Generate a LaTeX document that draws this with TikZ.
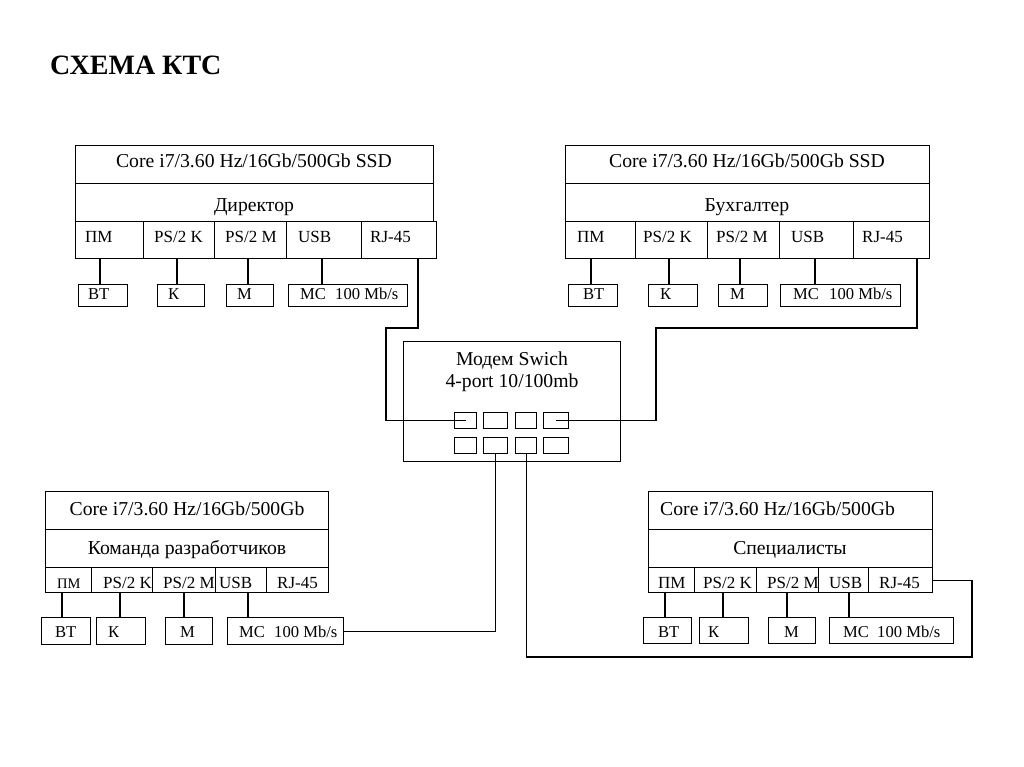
\documentclass[tikz,border=0pt]{standalone}
\usepackage{fontspec}
\setmainfont{Liberation Serif}
\begin{document}
\begin{tikzpicture}[x=1pt,y=-1pt,
  cell/.style={draw, line width=1.1pt, inner sep=0pt, anchor=north west},
  wire/.style={line width=1.1pt},
  big/.style={font=\fontsize{19.7}{22}\selectfont, anchor=base, inner sep=0pt},
  bigl/.style={font=\fontsize{19.7}{22}\selectfont, anchor=base west, inner sep=0pt},
  portl/.style={font=\fontsize{17}{20}\selectfont, anchor=base west, inner sep=0pt},
  ports/.style={font=\fontsize{14.5}{17}\selectfont, anchor=base west, inner sep=0pt},
  perl/.style={font=\fontsize{16.6}{19}\selectfont, anchor=base west, inner sep=0pt}]
\newcounter{lbc}
\newcommand\cellnode[5]{\node[cell, minimum width={#4-#2}, minimum height={#5-#3}] (#1) at (#2,#3) {};}
\newcommand\mylab[4]{\stepcounter{lbc}\node[#1] (lab\arabic{lbc}) at (#2,#3) {#4};}
\newcommand\vlink[3]{\draw[wire] (#1.south -| #3,0) -- (#2.north -| #3,0);}
\fill[white] (0,0) rectangle (1024,767);
\useasboundingbox (0,0) rectangle (1024,767);

% title
\node[font=\bfseries\fontsize{28}{32}\selectfont, anchor=base west, inner sep=0pt] (title) at (50,75) {СХЕМА КТС};

% ---------- top left: Директор ----------
\cellnode{tl-cpu}{75}{145}{433}{183}
\cellnode{tl-name}{75}{183}{433}{221}
\cellnode{tl-pm}{75}{221}{143}{258}
\cellnode{tl-psk}{143}{221}{214}{258}
\cellnode{tl-psm}{214}{221}{286}{258}
\cellnode{tl-usb}{286}{221}{361}{258}
\cellnode{tl-rj}{361}{221}{436}{258}
\cellnode{tl-bt}{78}{284}{127}{306}
\cellnode{tl-k}{157}{284}{204}{306}
\cellnode{tl-m}{226}{284}{273}{306}
\cellnode{tl-mc}{288}{284}{407}{306}
\mylab{big}{254}{168}{Core i7/3.60 Hz/16Gb/500Gb SSD}
\mylab{big}{254}{212}{Директор}
\mylab{portl}{85}{243}{ПМ}
\mylab{portl}{154}{243}{PS/2 K}
\mylab{portl}{225}{243}{PS/2 M}
\mylab{portl}{298}{243}{USB}
\mylab{portl}{370}{243}{RJ-45}
\mylab{perl}{88}{299}{ВТ}
\mylab{perl}{168}{299}{К}
\mylab{perl}{237}{299}{М}
\mylab{perl}{300}{299}{МС}
\mylab{perl}{335}{299}{100 Mb/s}
\vlink{tl-pm}{tl-bt}{100}
\vlink{tl-psk}{tl-k}{177}
\vlink{tl-psm}{tl-m}{248}
\vlink{tl-usb}{tl-mc}{322}

% ---------- top right: Бухгалтер ----------
\cellnode{tr-cpu}{565}{145}{929}{183}
\cellnode{tr-name}{565}{183}{929}{221}
\cellnode{tr-pm}{565}{221}{635}{258}
\cellnode{tr-psk}{635}{221}{707}{258}
\cellnode{tr-psm}{707}{221}{779}{258}
\cellnode{tr-usb}{779}{221}{853}{258}
\cellnode{tr-rj}{853}{221}{929}{258}
\cellnode{tr-bt}{568}{284}{617}{306}
\cellnode{tr-k}{648}{284}{697}{306}
\cellnode{tr-m}{718}{284}{767}{306}
\cellnode{tr-mc}{780}{284}{900}{306}
\mylab{big}{747}{168}{Core i7/3.60 Hz/16Gb/500Gb SSD}
\mylab{big}{747}{212}{Бухгалтер}
\mylab{portl}{577}{243}{ПМ}
\mylab{portl}{643}{243}{PS/2 K}
\mylab{portl}{716}{243}{PS/2 M}
\mylab{portl}{791}{243}{USB}
\mylab{portl}{862}{243}{RJ-45}
\mylab{perl}{583}{299}{ВТ}
\mylab{perl}{660}{299}{К}
\mylab{perl}{730}{299}{М}
\mylab{perl}{793}{299}{МС}
\mylab{perl}{829}{299}{100 Mb/s}
\vlink{tr-pm}{tr-bt}{591}
\vlink{tr-psk}{tr-k}{669}
\vlink{tr-psm}{tr-m}{740}
\vlink{tr-usb}{tr-mc}{815}

% ---------- modem ----------
\cellnode{modem}{403}{341}{620}{461}
\mylab{big}{512}{365}{Модем Swich}
\mylab{big}{512}{387}{4-port 10/100mb}
\cellnode{mt1}{454}{412}{476}{428}
\cellnode{mt2}{483}{412}{507}{428}
\cellnode{mt3}{515}{412}{536}{428}
\cellnode{mt4}{543}{412}{568}{428}
\cellnode{mb1}{454}{437}{476}{453}
\cellnode{mb2}{483}{437}{507}{453}
\cellnode{mb3}{515}{437}{536}{453}
\cellnode{mb4}{543}{437}{568}{453}

% ---------- bottom left: Команда разработчиков ----------
\cellnode{bl-cpu}{45}{491}{328}{529}
\cellnode{bl-name}{45}{529}{328}{567}
\cellnode{bl-pm}{45}{567}{91}{592}
\cellnode{bl-psk}{91}{567}{152}{592}
\cellnode{bl-psm}{152}{567}{215}{592}
\cellnode{bl-usb}{215}{567}{266}{592}
\cellnode{bl-rj}{266}{567}{328}{592}
\cellnode{bl-bt}{41}{617}{90}{644}
\cellnode{bl-k}{96}{617}{145}{644}
\cellnode{bl-m}{165}{617}{212}{644}
\cellnode{bl-mc}{227}{617}{343}{644}
\mylab{big}{187}{515}{Core i7/3.60 Hz/16Gb/500Gb}
\mylab{big}{187}{554}{Команда разработчиков}
\mylab{ports}{57}{588}{ПМ}
\mylab{portl}{103}{588}{PS/2 K}
\mylab{portl}{163}{588}{PS/2 M}
\mylab{portl}{219}{588}{USB}
\mylab{portl}{277}{588}{RJ-45}
\mylab{perl}{55}{637}{ВТ}
\mylab{perl}{108}{637}{К}
\mylab{perl}{180}{637}{М}
\mylab{perl}{239}{637}{МС}
\mylab{perl}{274}{637}{100 Mb/s}
\vlink{bl-pm}{bl-bt}{62}
\vlink{bl-psk}{bl-k}{120}
\vlink{bl-psm}{bl-m}{184}
\vlink{bl-usb}{bl-mc}{248}

% ---------- bottom right: Специалисты ----------
\cellnode{br-cpu}{648}{491}{932}{529}
\cellnode{br-name}{648}{529}{932}{567}
\cellnode{br-pm}{648}{567}{694}{592}
\cellnode{br-psk}{694}{567}{756}{592}
\cellnode{br-psm}{756}{567}{818}{592}
\cellnode{br-usb}{818}{567}{868}{592}
\cellnode{br-rj}{868}{567}{932}{592}
\cellnode{br-bt}{643}{617}{691}{643}
\cellnode{br-k}{699}{617}{748}{643}
\cellnode{br-m}{768}{617}{815}{643}
\cellnode{br-mc}{829}{617}{953}{643}
\mylab{bigl}{660}{515}{Core i7/3.60 Hz/16Gb/500Gb}
\mylab{big}{790}{554}{Специалисты}
\mylab{portl}{658}{588}{ПМ}
\mylab{portl}{703}{588}{PS/2 K}
\mylab{portl}{767}{588}{PS/2 M}
\mylab{portl}{829}{588}{USB}
\mylab{portl}{879}{588}{RJ-45}
\mylab{perl}{658}{637}{ВТ}
\mylab{perl}{708}{637}{К}
\mylab{perl}{784}{637}{М}
\mylab{perl}{843}{637}{МС}
\mylab{perl}{877}{637}{100 Mb/s}
\vlink{br-pm}{br-bt}{665}
\vlink{br-psk}{br-k}{723}
\vlink{br-psm}{br-m}{787}
\vlink{br-usb}{br-mc}{849}

% ---------- network wiring ----------
\draw[wire] (tl-rj.south -| 418,0) |- (386,328) |- (mt1.center);
\draw[wire] (tr-rj.south -| 917,0) |- (656,328) |- (mt4.center);
\draw[wire] (mb2.south) |- (bl-mc.east);
\draw[wire] (mb3.south) |- (972,657) |- (br-rj.east);
\end{tikzpicture}
\end{document}
